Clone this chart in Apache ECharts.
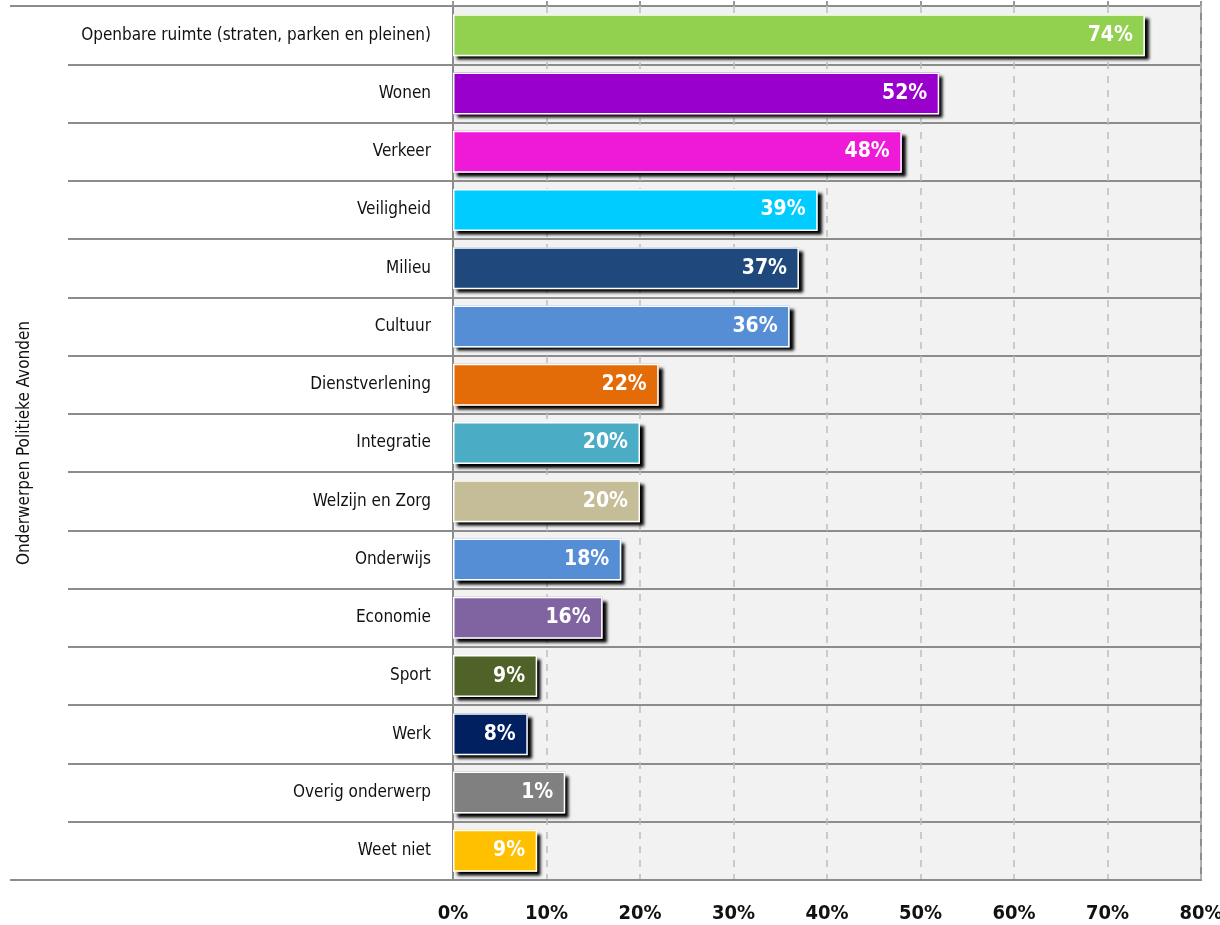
<!DOCTYPE html>
<html>
<head>
<meta charset="utf-8">
<script src="https://cdn.jsdelivr.net/npm/echarts@6/dist/echarts.min.js"></script>
<style>
html,body{margin:0;padding:0;background:#fff;}
#c{width:1220px;height:925px;}
</style>
</head>
<body>
<div id="c"></div>
<script>
var categories = ["Openbare ruimte (straten, parken en pleinen)","Wonen","Verkeer","Veiligheid","Milieu","Cultuur","Dienstverlening","Integratie","Welzijn en Zorg","Onderwijs","Economie","Sport","Werk","Overig onderwerp","Weet niet"];
var values = [74,52,48,39,37,36,22,20,20,18,16,9,8,12,9];
var valueLabels = ["74%","52%","48%","39%","37%","36%","22%","20%","20%","18%","16%","9%","8%","1%","9%"];
var colors = ["#92d050","#9900cc","#ee1ad8","#00ccff","#1f497d","#558ed5","#e36c09","#4bacc6","#c4bd97","#558ed5","#8064a2","#4f6228","#002060","#808080","#ffc000"];
var xTicks = [0,10,20,30,40,50,60,70,80];
var axisTitle = "Onderwerpen Politieke Avonden";

var FONT = "'Liberation Sans Narrow','DejaVu Sans Condensed','Noto Sans',sans-serif";
var chart = echarts.init(document.getElementById('c'), null, {renderer:'canvas'});
var fillData = values.map(function(v,i){
  return {value:v, itemStyle:{color:colors[i]}};
});
var borderData = values.map(function(v,i){
  return {value:v, label:{formatter:valueLabels[i]}};
});
chart.setOption({
  animation:false,
  backgroundColor:'#fff',
  grid:{left:453,right:19,top:6,bottom:45,containLabel:false,outerBoundsMode:'none',backgroundColor:'#f2f2f2',show:true,borderColor:'#8c8c8c',borderWidth:2},
  xAxis:[{
    type:'value',min:xTicks[0],max:xTicks[xTicks.length-1],interval:10,position:'bottom',
    axisLine:{show:true,lineStyle:{color:'#8c8c8c',width:2}},
    axisTick:{show:false},
    axisLabel:{formatter:'{value}%',margin:24,color:'#111',fontFamily:FONT,fontSize:20,fontWeight:'bold'},
    splitLine:{show:true,lineStyle:{color:'#bdbdbd',type:[7,7],width:1.5}}
  },{
    type:'value',min:xTicks[0],max:xTicks[xTicks.length-1],interval:10,position:'top',
    axisLine:{show:false},
    axisTick:{show:true,length:5,lineStyle:{color:'#999',width:2}},
    axisLabel:{show:false},splitLine:{show:false}
  }],
  yAxis:{
    type:'category',data:categories,inverse:true,
    name:axisTitle,nameLocation:'middle',nameRotate:90,nameGap:420,
    nameTextStyle:{color:'#111',fontFamily:FONT,fontSize:17},
    axisLine:{show:true,lineStyle:{color:'#8c8c8c',width:2}},
    axisTick:{show:true,length:385,lineStyle:{color:'#8c8c8c',width:2}},
    axisLabel:{margin:22,color:'#111',fontFamily:FONT,fontSize:17},
    splitLine:{show:true,lineStyle:{color:'#8c8c8c',width:2}}
  },
  series:[{
    type:'bar',data:fillData,barWidth:42,z:2,
    itemStyle:{borderWidth:0,shadowColor:'rgba(0,0,0,1)',shadowOffsetX:4,shadowOffsetY:4,shadowBlur:3}
  },{
    type:'bar',data:borderData,barWidth:42,barGap:'-100%',z:3,
    itemStyle:{color:'rgba(0,0,0,0)',borderColor:'#fff',borderWidth:1.5},
    label:{show:true,position:'insideRight',distance:12,color:'#fff',fontFamily:FONT,fontSize:21,fontWeight:'bold'}
  }],
  graphic:[
    {type:'line',shape:{x1:10,y1:880,x2:453,y2:880},style:{stroke:'#8c8c8c',lineWidth:2},silent:true},
    {type:'line',shape:{x1:10,y1:6,x2:453,y2:6},style:{stroke:'#8c8c8c',lineWidth:2},silent:true}
  ]
});
</script>
</body>
</html>
